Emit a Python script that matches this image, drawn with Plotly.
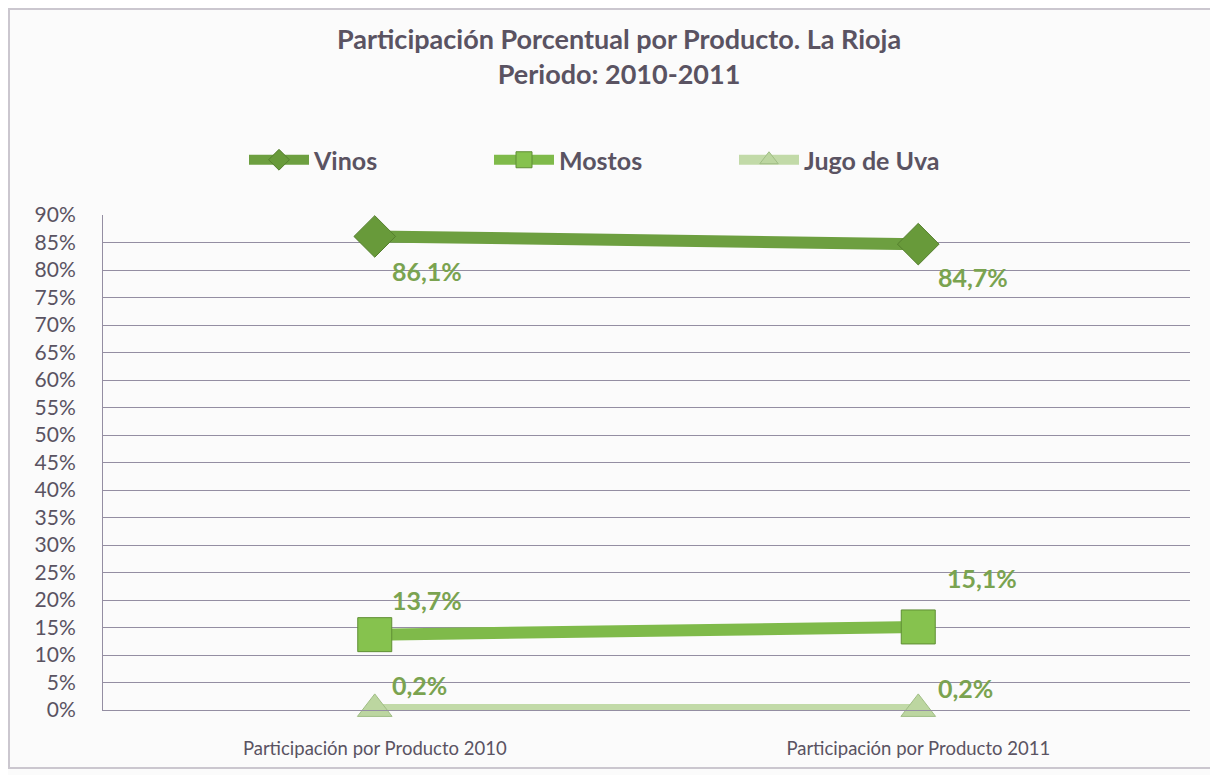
import plotly.graph_objects as go

categories = ["Participación por Producto 2010", "Participación por Producto 2011"]
vinos = [0.861, 0.847]
mostos = [0.137, 0.151]
jugo = [0.002, 0.002]


def label_fmt(v):
    return f"{v*100:.1f}%".replace(".", ",")


FONT = "Lato"
TXT = "#5a5362"

fig = go.Figure()
series = [
    # name, values, line colour, marker colour, marker edge, symbol, size, line width, label offsets (x, y) per point
    ("Vinos", vinos, "#6d9f40", "#689a3a", "#557f2e", "diamond", 32, 12, [(15, -35), (18, -33)]),
    ("Mostos", mostos, "#7fba4a", "#86c24e", "#5f8e34", "square", 34, 12, [(15, 35), (27, 49)]),
    ("Jugo de Uva", jugo, "#c2daa8", "#bcd6a0", "#9fbd84", "triangle-up", 30, 10, [(15, 24), (18, 21)]),
]
for name, vals, lc, mc, me, sym, size, lw, offs in series:
    fig.add_trace(go.Scatter(
        x=categories, y=vals, name=name, mode="lines+markers",
        line=dict(color=lc, width=lw),
        marker=dict(symbol=sym, size=size, color=mc, line=dict(color=me, width=1)),
        cliponaxis=False,
    ))
    for c, v, (dx, dy) in zip(categories, vals, offs):
        fig.add_annotation(x=c, y=v, text=label_fmt(v), showarrow=False,
                           xanchor="left", yanchor="middle", xshift=dx, yshift=dy,
                           font=dict(family=FONT, size=25, color="#7aa350", weight="bold"))

W, H = 1210, 767
L, R, T, B = 95, 28, 207, 65
pw, ph = W - L - R, H - T - B

fig.update_layout(
    width=W, height=H,
    paper_bgcolor="#fbfbfb", plot_bgcolor="#fbfbfb",
    margin=dict(l=L, r=R, t=T, b=B, autoexpand=False),
    title=dict(text="Participación Porcentual por Producto. La Rioja<br>Periodo: 2010-2011",
               x=0.505, xanchor="center", yref="container", y=1 - 41 / H, yanchor="top",
               font=dict(family=FONT, size=27, color=TXT, weight="bold")),
    legend=dict(orientation="h", x=(236 - L) / pw, xanchor="left", y=1 + 55 / ph, yanchor="middle",
                font=dict(family=FONT, size=25, color=TXT, weight="bold"),
                entrywidth=170, itemwidth=60, bgcolor="rgba(0,0,0,0)"),
    showlegend=True,
)
fig.update_yaxes(range=[0, 0.9], dtick=0.05, tickformat=".0%",
                 showgrid=True, gridcolor="#948ea2", gridwidth=1,
                 showline=True, linecolor="#948ea2", linewidth=1,
                 zeroline=False, ticks="", automargin=False, ticklabelstandoff=22,
                 tickfont=dict(family=FONT, size=21, color=TXT))
fig.update_xaxes(range=[-0.5, 1.5], showgrid=False, showline=True, linecolor="#948ea2", linewidth=1,
                 ticks="", automargin=False, ticklabelstandoff=22,
                 tickfont=dict(family=FONT, size=18.5, color=TXT))
fig.add_shape(type="rect", xref="paper", yref="paper",
              x0=(1 - L) / pw, y0=(H - B - 760) / ph, x1=(1205 - L) / pw, y1=(H - B - 1) / ph,
              line=dict(color="#cbc7cf", width=2), fillcolor="rgba(0,0,0,0)", layer="below")

fig.write_html("out.html")
